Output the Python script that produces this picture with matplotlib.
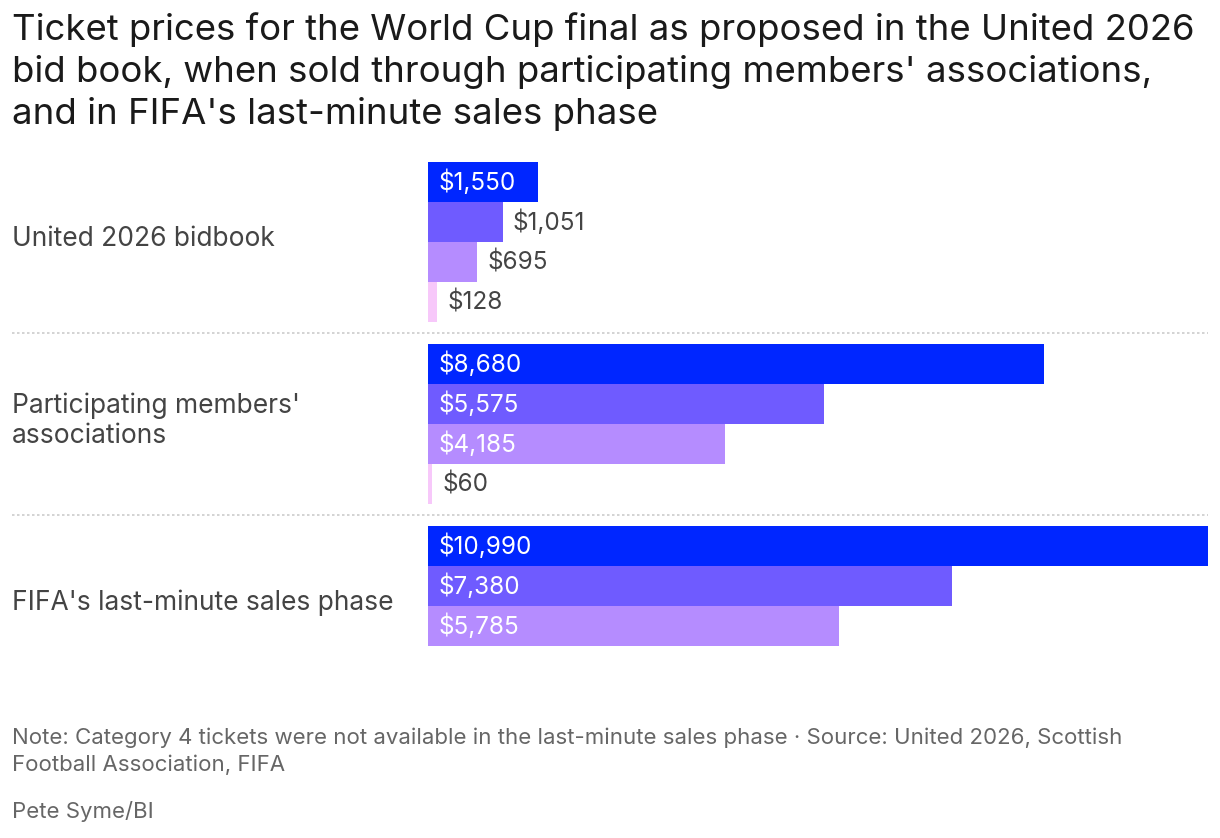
import numpy as np
import matplotlib.pyplot as plt

groups = ["United 2026 bidbook", "Participating members'\nassociations", "FIFA's last-minute sales phase"]
cat1 = [1550, 8680, 10990]
cat2 = [1051, 5575, 7380]
cat3 = [695, 4185, 5785]
cat4 = [128, 60, None]
colors = ["#0026ff", "#6f5bff", "#b58cff", "#f7c8fa"]

plt.rcParams['font.family'] = ['Inter', 'DejaVu Sans']

W, H = 1220, 838
fig = plt.figure(figsize=(W / 100, H / 100), dpi=100)

# axes spans the bar area in pixel terms
x0, x1 = 428, 1208
y_top, y_bot = 162, 686
ax = fig.add_axes([x0 / W, 1 - y_bot / H, (x1 - x0) / W, (y_bot - y_top) / H])
gap = 4.55
ax.set_xlim(0, max(cat1))
ax.set_ylim(2 * gap + 4, 0)
ax.axis('off')

series = [cat1, cat2, cat3, cat4]
px = (x1 - x0) / max(cat1)
for g in range(len(groups)):
    for c, s in enumerate(series):
        v = s[g]
        if v is None:
            continue
        y = g * gap + c + 0.5
        ax.barh(y, v, height=1.0, color=colors[c], edgecolor='none')
        lab = "${:,}".format(v)
        if v > 1500:
            ax.text(10 / px, y, lab, color='white', fontsize=17.5, va='center', ha='left')
        else:
            ax.text(v + 10 / px, y, lab, color='#444444', fontsize=17.5, va='center', ha='left')
    # group label
    fig.text(12 / W, 1 - (y_top + (g * gap + 2) * 40 - 3) / H, groups[g], fontsize=19,
             color='#444444', va='center', ha='left', linespacing=1.2)

# dotted separators
for g in range(1, len(groups)):
    ysep = y_top + (g * gap - 0.27) * 40
    fig.add_artist(plt.Line2D([12 / W, 1208 / W], [1 - ysep / H, 1 - ysep / H],
                              color='#cccccc', lw=1.2, ls=(0, (1.5, 1.5))))

fig.text(12 / W, 1 - 12 / H,
         "Ticket prices for the World Cup final as proposed in the United 2026\n"
         "bid book, when sold through participating members' associations,\n"
         "and in FIFA's last-minute sales phase",
         fontsize=26.3, color='#1a1a1a', va='top', ha='left', linespacing=1.3)

fig.text(12 / W, 1 - 727 / H,
         "Note: Category 4 tickets were not available in the last-minute sales phase \u00b7 Source: United 2026, Scottish\n"
         "Football Association, FIFA",
         fontsize=16, color='#666666', va='top', ha='left', linespacing=1.4)
fig.text(12 / W, 1 - 801 / H, "Pete Syme/BI", fontsize=16, color='#666666', va='top', ha='left')

fig.savefig('out.png', dpi=100)
